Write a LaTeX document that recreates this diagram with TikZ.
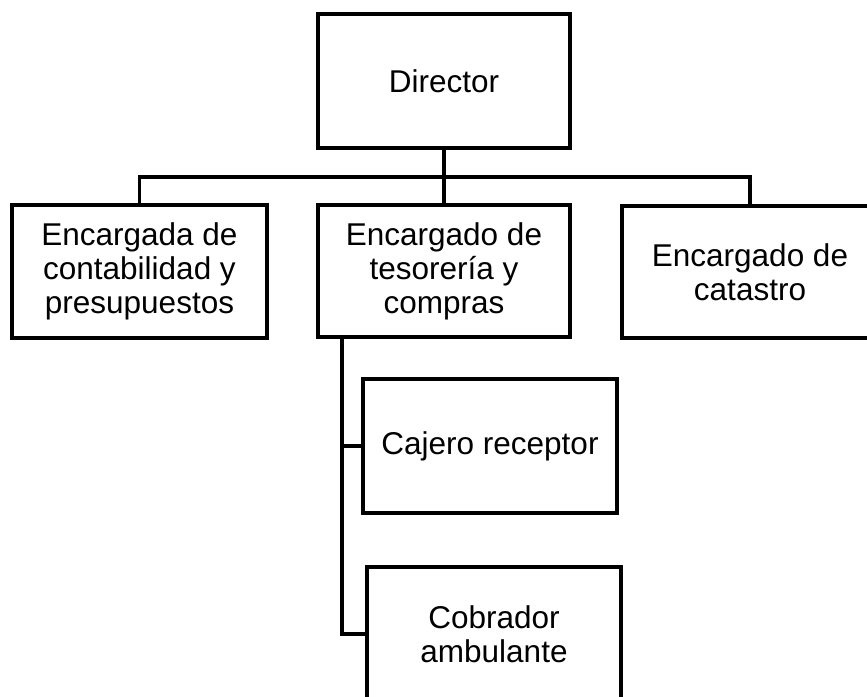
\documentclass[tikz,border=0pt]{standalone}
\usepackage{fontspec}
\setmainfont{Liberation Sans}
\usepackage{tikz}

\begin{document}
\begin{tikzpicture}[x=1pt,y=-1pt,
  puesto/.style={draw,line width=4pt,rectangle,align=center,inner sep=0pt,
    font=\fontsize{31.5}{34}\selectfont},
  linea/.style={line width=3.5pt}]

\useasboundingbox (0,0) rectangle (867,696);
\clip (0,0) rectangle (867,696);

\node[puesto,minimum width=252,minimum height=134] (director) at (444,81) {Director};
\node[puesto,minimum width=255,minimum height=133] (contab) at (139.5,271.5) {Encargada de\\contabilidad y\\presupuestos};
\node[puesto,minimum width=252,minimum height=132] (tesor) at (444,271) {Encargado de\\tesorería y\\compras};
\node[puesto,minimum width=256,minimum height=132] (catastro) at (750,272) {Encargado de\\catastro};
\node[puesto,minimum width=254,minimum height=134] (cajero) at (490,446) {Cajero receptor};
\node[puesto,minimum width=254,minimum height=134] (cobrador) at (494,634) {Cobrador\\ambulante};

\coordinate (bus) at (444,177);
\coordinate (tronco) at (342,337);

\draw[linea] (director.south) -- (tesor.north);
\draw[linea] (contab.north) |- (bus) -| (catastro.north);
\draw[linea] (tronco) |- (cajero.west);
\draw[linea] (tronco) |- (cobrador.west);

\end{tikzpicture}
\end{document}
